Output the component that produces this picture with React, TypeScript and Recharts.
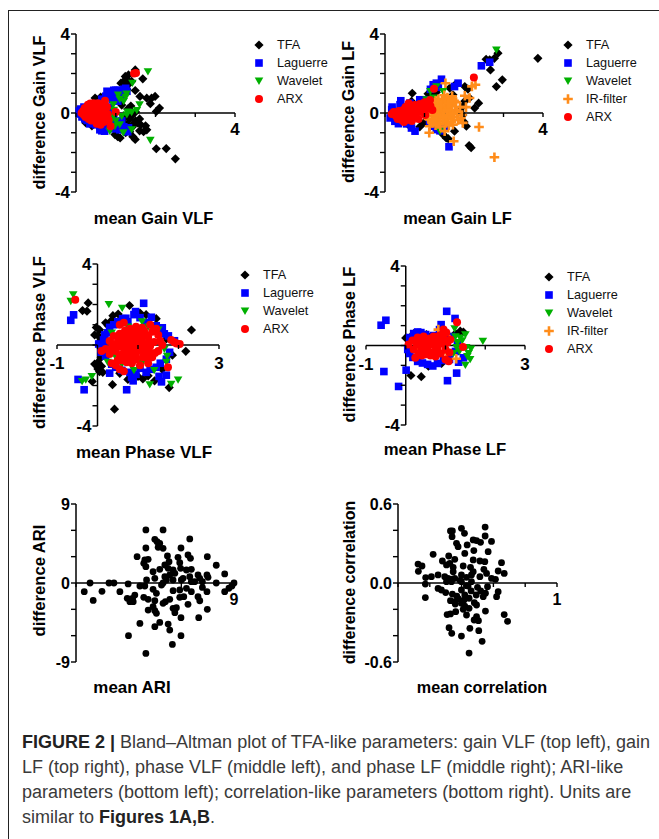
import { ReactElement } from "react";
import {
  Legend,
  ReferenceLine,
  Scatter,
  ScatterChart,
  XAxis,
  YAxis,
} from "recharts";

type Pair = [number, number];

// Gain VLF
const gainVlfTfa: Pair[] = [
  [2.5, -2.32], [2.27, -1.8], [2.02, -1.81], [1.49, -1.34], [1.43, -1.2], [1.11, -1.26], [1.05, -1.2],
  [0.98, -1.09], [1.25, -1.0], [1.7, -0.95], [1.78, -0.85], [1.6, -0.9], [1.75, -0.65], [1.63, -0.6],
  [1.55, -0.5], [1.5, -0.4], [1.42, -0.7], [1.3, -0.6], [1.2, -0.45], [1.35, -0.3], [1.4, -0.15],
  [1.5, 0.05], [2.1, 0.25], [2.02, 0.08], [1.87, 0.47], [1.99, 0.84], [1.9, 0.75], [1.78, 0.75],
  [1.61, 0.84], [1.49, 1.14], [1.68, 1.73], [1.49, 2.18], [1.32, 1.93], [1.24, 1.85], [1.13, 1.51],
  [1.2, 1.6], [1.28, 1.7], [1.4, 1.6], [1.32, 1.45], [1.28, 1.2], [0.98, 1.12], [0.85, 1.0],
  [0.62, 0.8], [0.48, 0.76], [0.52, 0.68], [0.25, -0.5], [0.4, -0.65], [1.15, 0.4], [1.3, 0.2],
  [1.45, -0.55], [1.6, -0.3], [1.35, -0.95], [1.2, -0.2], [1.38, 0.35],
];
const gainVlfLaguerre: Pair[] = [
  [0.08, 0.1], [0.1, -0.05], [0.12, 0.2], [0.15, -0.2], [0.16, 0.05], [0.2, 0.3], [0.22, -0.3],
  [0.28, -0.38], [0.3, 0.28], [0.35, -0.55], [0.38, 0.35], [0.42, -0.5], [0.5, -0.6], [0.55, 0.45],
  [0.6, -0.65], [0.62, 0.5], [0.6, -0.85], [0.65, -0.9], [0.72, -0.92], [0.7, 0.6], [0.75, 0.85],
  [0.78, 1.1], [0.8, -0.7], [0.85, 1.05], [0.9, 1.0], [0.92, 0.7], [0.85, 0.3], [0.95, 1.15],
  [1.0, 1.15], [1.05, 0.95], [1.1, 1.15], [1.15, 1.1], [1.2, 1.2], [1.25, 1.25], [1.28, 1.1],
  [0.9, -0.45], [1.0, -0.6], [1.1, -0.85], [1.3, -0.95], [1.32, -0.75], [0.95, -0.1], [0.8, 0.1],
  [0.7, -0.2], [1.05, 0.6], [1.15, -0.4], [0.65, 0.7], [0.72, 0.45], [0.68, -0.6], [0.85, -0.75],
  [0.95, -0.8], [1.05, -0.75], [0.82, 0.95], [0.98, 0.85], [1.12, 0.9], [1.2, -0.7],
];
const gainVlfWavelet: Pair[] = [
  [1.81, 2.1], [1.42, 1.51], [1.87, -1.38], [1.6, 0.42], [1.53, 0.13], [1.4, 0.03], [1.28, -0.08],
  [1.15, -0.17], [1.06, 0.92], [1.27, 0.97], [1.2, 0.59], [0.94, 0.42], [0.9, -0.33], [0.98, -0.67],
  [1.1, -0.59], [0.85, -0.92], [1.19, -1.0], [1.4, -0.84], [0.94, -0.17], [1.25, 0.8], [1.1, 0.7],
  [1.0, -0.4], [1.3, 0.05], [0.95, 0.15],
];
const gainVlfArx: Pair[] = [
  [0.14, 0], [0.18, 0.1], [0.2, -0.1], [0.22, 0.25], [0.24, -0.2], [0.26, 0.1], [0.28, 0.3],
  [0.3, -0.1], [0.3, 0.42], [0.32, -0.3], [0.34, 0.2], [0.36, 0.48], [0.38, 0.05], [0.38, -0.38],
  [0.4, 0.3], [0.42, -0.2], [0.44, 0.5], [0.45, 0.12], [0.48, -0.4], [0.5, 0.35], [0.5, -0.1],
  [0.52, -0.55], [0.55, 0.2], [0.55, 0.5], [0.58, -0.3], [0.6, 0.05], [0.6, 0.4], [0.62, -0.6],
  [0.65, -0.15], [0.66, 0.25], [0.68, 0.45], [0.7, -0.45], [0.72, 0.1], [0.73, 0.62], [0.75, -0.2],
  [0.78, 0.3], [0.8, -0.05], [0.82, -0.35], [0.87, -0.67], [1.0, 0.05], [1.46, 2.0], [1.51, 2.02],
];

// Gain LF
const gainLfTfa: Pair[] = [
  [3.87, 2.77], [2.86, 3.03], [2.77, 2.77], [2.65, 2.69], [2.56, 2.72], [2.67, 2.18], [2.97, 1.68],
  [2.82, 1.34], [2.02, 1.34], [2.1, 1.21], [1.64, 1.26], [1.76, 1.4], [2.14, 0.76], [2.37, 0.5],
  [2.27, 0.25], [2.02, 0.6], [1.97, 0.34], [0.69, 1.0], [0.67, 0.59], [1.09, 0.97], [1.17, 0.92],
  [1.5, 0.67], [1.72, 0.92], [2.18, -1.76], [2.13, -1.65], [1.55, -1.26], [1.47, -1.09], [1.76, -0.92],
  [2.06, -0.67], [0.63, -0.67], [0.88, -0.7], [1.97, -0.1], [1.4, -0.9], [1.6, -1.3], [2.0, -0.45],
  [1.9, 0.1], [1.3, 1.05], [0.98, -0.5],
];
const gainLfLaguerre: Pair[] = [
  [2.65, 2.57], [2.44, 2.39], [1.62, -1.71], [1.43, 1.71], [1.3, 1.51], [1.22, 1.43], [1.85, 1.51],
  [1.76, 1.34], [0.4, 0.62], [0.38, 0.42], [0.18, 0.3], [0.17, 0.17], [0.13, -0.25], [0.34, -0.54],
  [0.25, -0.42], [0.76, -0.92], [0.67, -0.76], [1.3, -0.84], [1.39, -0.9], [0.88, 0.67], [0.97, 0.67],
  [0.63, 0.5], [1.13, -0.5], [1.22, -0.67], [1.05, 0.67], [0.5, 0.3], [0.55, -0.55], [1.15, 1.2],
  [1.35, 1.3], [1.5, -0.7],
];
const gainLfWavelet: Pair[] = [
  [2.82, 3.19], [1.39, -0.92], [1.09, 0.42], [1.3, 1.34], [1.47, 1.09], [1.05, 0.67], [1.22, 0.76],
  [1.55, -0.34], [1.15, 1.1], [1.3, -0.5],
];
const gainLfIr: Pair[] = [
  [2.77, -2.24], [2.38, -0.71], [1.74, -1.43], [1.12, -1.0], [1.51, -0.92], [2.29, 1.43], [1.53, 1.51],
  [2.02, 0.87], [2.14, 0.76], [1.97, -0.5], [1.72, -0.59], [1.13, -0.67], [1.22, -0.34], [1.3, 0.1],
  [1.4, 0.5], [1.5, 0.9], [1.6, 0.3], [1.7, 0.85], [1.8, 0.55], [1.9, 0.3], [1.45, -0.1], [1.55, -0.5],
  [1.65, 0.05], [1.75, -0.2], [1.85, -0.35], [1.25, 0.45], [1.35, -0.55], [1.45, 0.25], [1.55, 0.6],
  [1.35, 0.7], [1.15, 0.15], [1.25, -0.15], [2.05, 0.3], [1.95, -0.1], [1.4, -0.25], [1.6, -0.3],
  [1.7, 0.35], [1.5, 0.1], [1.1, -0.3], [2.2, 1.35], [1.3, -0.35], [1.42, 0.05], [1.52, 0.35],
  [1.62, -0.12], [1.32, 0.32], [1.2, -0.5], [1.58, 0.78], [1.78, 0.15], [1.48, -0.4], [1.68, -0.45],
  [1.2, 0.05], [1.38, 0.18], [1.28, 0.62], [1.45, 0.72], [1.65, 0.55], [1.82, 0.05], [1.92, -0.25],
  [1.35, -0.12], [1.47, -0.22], [1.57, 0.15], [1.25, 0.25], [1.18, -0.42], [1.72, -0.05], [1.42, 0.38],
  [1.6, 0.48], [1.75, 0.62], [1.28, -0.62], [1.4, -0.68], [1.62, -0.62], [1.08, 0.05], [1.05, -0.15],
];
const gainLfArx: Pair[] = [
  [2.25, 1.8], [1.24, 1.23], [0.6, 0.5], [0.17, -0.05], [0.22, 0.05], [0.28, -0.15], [0.32, -0.3],
  [0.35, 0.1], [0.4, -0.05], [0.42, -0.35], [0.46, 0.15], [0.5, -0.15], [0.52, 0.3], [0.55, -0.35],
  [0.58, 0.05], [0.62, -0.2], [0.65, 0.25], [0.68, -0.4], [0.72, 0.1], [0.75, 0.4], [0.78, -0.15],
  [0.82, 0.2], [0.85, -0.3], [0.88, 0.45], [0.92, 0.05], [0.95, 0.3], [1.0, 0.55], [1.02, -0.1],
  [1.05, 0.2], [1.1, 0.5], [1.15, 0.35], [1.2, 0.15], [1.14, 0.66], [0.48, -0.45], [0.7, 0.35],
];

// Phase VLF
const phaseVlfTfa: Pair[] = [
  [0.42, -3.17], [0.37, -1.96], [-0.13, -1.8], [1.77, -2.1], [-0.23, 2.08], [-0.26, 1.67], [-0.37, 1.7],
  [0.79, 1.95], [2.32, 0.74], [2.18, -0.31], [-0.03, 0.87], [-0.07, 0.5], [0.01, 0.47], [-0.07, -0.94],
  [0.01, -0.86], [0.09, -0.61], [0.05, -1.32], [0.13, -1.35], [0.01, -1.18], [0.38, 1.45], [0.51, 1.53],
  [0.26, 0.96], [0.34, 1.2], [1.25, -1.52], [1.12, -1.68], [1.41, -1.77], [1.62, 0.66], [0.75, -1.7],
  [1.2, 1.5], [1.05, 1.58], [0.05, 0.75], [0.1, -1.05], [0.2, 1.1], [1.7, 0.3], [1.85, -0.5], [1.6, -1.2],
  [1.0, -1.55], [0.55, -1.4], [1.45, 1.3], [0.15, -0.3], [0.08, 0.2],
];
const phaseVlfLaguerre: Pair[] = [
  [1.14, 2.06], [-0.59, 1.49], [-0.66, 1.22], [-0.48, -1.7], [-0.33, -2.21], [0.72, -2.21], [1.58, -1.82],
  [1.7, -1.49], [1.52, -1.55], [0.88, -1.77], [0.84, -1.6], [0.3, -1.39], [0.94, 1.65], [0.7, 1.32],
  [1.33, 1.37], [0.3, 0.87], [0.18, 0.5], [0.03, 0.05], [0.09, -0.36], [1.9, 0.21], [1.78, -0.36],
  [1.7, -0.7], [0.9, 1.5], [1.05, 1.35], [0.5, 1.15], [0.62, 1.3], [0.25, 0.6], [0.15, 0.25], [0.2, -0.55],
  [0.35, -0.95], [0.6, -1.25], [0.95, -1.45], [1.2, -1.35], [1.45, -1.1], [1.6, 0.85], [1.45, 0.95],
  [1.75, 0.45], [1.2, 1.1], [0.4, 1.0], [0.15, 0.0], [0.8, -1.35], [1.05, -1.15], [0.75, 1.15],
  [0.25, -0.25], [0.45, -1.1], [1.3, -1.2], [1.55, -0.9], [1.65, 0.55],
];
const phaseVlfWavelet: Pair[] = [
  [-0.6, 2.49], [-0.66, 2.16], [0.28, 2.01], [0.61, 1.82], [-0.14, -1.55], [-0.29, -1.72], [-0.38, -1.8],
  [1.99, -1.72], [1.82, -1.93], [1.29, -1.96], [1.7, -0.85], [1.72, -0.55], [1.1, 1.15], [1.25, 0.9],
  [0.35, 0.6], [0.25, -0.85], [0.45, -0.6], [0.9, -1.25], [1.4, -1.25], [1.1, -0.9], [0.75, 0.9],
  [1.5, 0.75], [1.65, -0.2], [0.85, 0.35], [0.6, -0.95],
];
const phaseVlfArx: Pair[] = [
  [-0.55, 2.24], [1.74, -1.1], [2.03, 0.05], [1.9, 0.13], [1.82, 0.25], [1.95, 0.08], [0.55, 1.0],
  [0.65, 1.1], [0.8, 0.8], [0.95, 0.9], [1.3, 1.0], [1.45, 0.8], [1.5, 0.5], [1.55, 0.2], [1.6, 0.0],
  [1.5, -0.3], [1.35, -0.6], [1.25, -0.9], [1.05, -1.0], [0.85, -0.9], [0.55, -1.2], [0.65, -1.3],
  [0.45, -1.0], [0.35, -0.9], [0.3, -0.45], [0.2, -0.2], [0.1, -0.3], [0.3, 0.2], [0.4, 0.45],
  [0.45, -0.3], [0.5, 0.1], [0.55, 0.55], [0.55, -0.5], [0.6, -0.1], [0.62, 0.3], [0.68, 0.7],
  [0.7, -0.65], [0.72, 0.0], [0.75, 0.45], [0.78, -0.35], [0.82, 0.15], [0.85, -0.6], [0.88, 0.55],
  [0.9, -0.15], [0.92, 0.25], [0.95, -0.45], [1.0, 0.05], [1.0, 0.6], [1.05, -0.25], [1.08, 0.3],
  [1.12, -0.6], [1.15, 0.7], [1.18, 0.05], [1.2, -0.3], [1.25, 0.4], [1.3, -0.05], [1.35, 0.65],
  [1.4, 0.15], [1.42, -0.4], [0.65, 0.05], [0.8, -0.1], [0.98, 0.35], [0.75, 0.2], [0.88, -0.35],
  [0.7, 0.3], [0.85, 0.4], [0.9, 0.05], [0.8, -0.5], [0.98, -0.2], [1.1, 0.1], [0.68, -0.25],
  [0.78, 0.6], [0.95, -0.7], [1.02, 0.4], [1.2, 0.5], [1.15, -0.45], [0.6, 0.45], [0.58, -0.75],
  [0.4, 0.05], [0.35, -0.15], [0.5, -0.75], [0.72, -0.85], [0.92, 0.75], [1.1, 0.85], [1.28, 0.15],
  [1.32, -0.4], [1.25, -0.65], [0.62, -0.45], [0.52, 0.3], [0.48, -0.1], [1.1, -0.1], [1.05, 0.55],
];

// Phase LF
const phaseLfTfa: Pair[] = [
  [0.13, -1.51], [0.39, -1.57], [0, 0.38], [1.37, 0.72], [1.45, 0.68], [0.57, -1.04], [0.52, 0.55],
  [0.2, 0.6], [0.9, -0.9], [1.25, 0.6],
];
const phaseLfLaguerre: Pair[] = [
  [-0.62, 1.02], [-0.5, 1.27], [1.03, 1.72], [1.24, 1.36], [0.89, 1.05], [-0.55, -1.31], [0.01, -1.24],
  [-0.18, -2.06], [1.05, -1.77], [1.28, -1.39], [1.33, -0.84], [1.45, -0.62], [0.1, 0.4], [0.2, 0.6],
  [0.3, 0.68], [0.38, 0.65], [0.5, 0.55], [0.7, 0.5], [0.85, 0.8], [1.0, 0.55], [1.15, 0.45], [0.05, -0.2],
  [0.1, -0.4], [0.18, -0.6], [0.3, -0.8], [0.42, -0.88], [0.55, -0.95], [0.68, -1.03], [0.8, -0.9],
  [0.95, -0.75], [1.1, -0.7], [1.25, -0.3], [1.3, 0.1],
];
const phaseLfWavelet: Pair[] = [
  [1.94, 0.22], [1.5, -0.99], [1.62, -0.7], [1.64, -0.17], [1.58, -0.4], [1.52, -0.1], [1.5, 0.55],
  [1.37, 0.38], [1.23, 0.85], [1.28, -0.1], [1.42, 0.25], [1.3, 0.15], [1.55, -0.55], [1.2, -0.4],
  [1.35, -0.3], [1.25, 0.45],
];
const phaseLfIr: Pair[] = [
  [1.27, -0.67], [0.82, 0.8], [1.03, -0.37], [0.95, 0.55], [1.1, 0.3], [0.3, -0.25], [0.5, 0.2],
];
const phaseLfArx: Pair[] = [
  [1.29, 1.17], [1.44, -0.08], [0.07, 0.05], [0.24, -0.62], [1.08, -0.79], [1.0, -0.7], [0.17, 0.25],
  [0.2, -0.2], [0.28, 0.05], [0.3, 0.4], [0.32, -0.4], [0.38, 0.2], [0.4, -0.15], [0.45, 0.45],
  [0.48, -0.45], [0.52, 0.1], [0.55, -0.2], [0.6, 0.35], [0.62, -0.5], [0.66, 0.05], [0.7, 0.45],
  [0.72, -0.3], [0.78, 0.2], [0.8, -0.1], [0.85, 0.5], [0.88, -0.4], [0.92, 0.1], [0.95, 0.35],
  [1.0, -0.2], [1.02, 0.65], [1.05, 0.15], [1.1, -0.35], [1.12, 0.3], [0.95, 0.8], [0.75, -0.55],
  [0.4, -0.5], [0.55, 0.25],
];

// mean ARI / difference ARI
const ariMean = [
  3.98, 4.96, 6.48, 4.49, 4.62, 4.77, 4.96, 4.68, 3.98, 5.98, 3.48, 4.11, 3.92, 3.86, 3.98, 5.21, 5.3,
  5.81, 5.91, 6.38, 6.52, 7.48, 7.99, 8.47, 4.39, 4.77, 5.06, 5.25, 5.53, 5.96, 6.29, 6.57, 5.63, 5.34,
  5.06, 5.15, 5.53, 6.1, 6.48, 6.95, 7.05, 7.46, 7.52, 4.02, 4.49, 4.96, 4.87, 0.8, 1.88, 2.16, 2.97,
  7.99, 9, 8.88, 8.71, 8.47, 0.47, 0.98, 1.48, 2.5, 3.35, 3.22, 2.92, 3.07, 3.26, 3.64, 3.92, 4.39, 4.58,
  3.86, 4.11, 4.49, 5.34, 5.09, 4.96, 5.53, 5.91, 6.29, 6.57, 5.91, 6.14, 6.95, 7.05, 6.38, 4.39, 4.11,
  4.58, 4.49, 5.53, 5.72, 5.63, 5.98, 6.99, 7.48, 3.64, 4.77, 4.49, 5.25, 5.34, 5.98, 2.99, 5.49, 3.98,
  7.46, 7.2, 6.76, 6.57, 7.2, 6.0,
];
const ariDiff = [
  6.05, 6.05, 5.02, 4.98, 4.71, 4.52, 3.95, 4.07, 3.99, 3.99, 3.0, 2.7, 2.62, 2.24, 1.86, 3.08, 2.43,
  2.93, 2.32, 3.19, 2.81, 3.0, 2.02, 1.03, 1.29, 1.56, 2.05, 1.67, 1.48, 1.67, 1.48, 1.56, 1.1, 0.91,
  0.72, 0.34, 0.34, 0.53, 0.72, 0.91, 0.53, 0.91, 0.65, 0.34, 0.53, 0, -0.23, 0, 0, 0, -0.1, 0, 0, -0.34,
  -0.6, -0.99, -0.99, -1.98, -0.95, -0.99, -1.37, -1.75, -1.75, -2.13, -2.13, -0.34, -0.34, -0.72, -1.18,
  -1.63, -1.86, -2.02, -1.86, -2.13, -2.32, -0.87, -0.8, -0.61, -0.99, -1.63, -1.56, -1.56, -2.02, -2.43,
  -2.7, -3.08, -3.46, -3.15, -2.89, -2.82, -3.38, -3.95, -3.95, -3.0, -4.6, -4.49, -4.98, -4.68, -5.36,
  -6.0, -6.0, -7.0, -8.02, -0.99, -0.5, 0.15, 0.15, 0.15, 0.34,
];

// mean correlation / difference correlation
const corrMean = [
  0.548, 0.399, 0.418, 0.33, 0.342, 0.34, 0.548, 0.473, 0.494, 0.519, 0.588, 0.368, 0.378, 0.435, 0.42,
  0.477, 0.567, 0.221, 0.126, 0.151, 0.128, 0.279, 0.319, 0.357, 0.326, 0.305, 0.347, 0.473, 0.515, 0.546,
  0.651, 0.41, 0.456, 0.54, 0.63, 0.668, 0.347, 0.473, 0.462, 0.557, 0.252, 0.21, 0.174, 0.294, 0.315,
  0.357, 0.399, 0.431, 0.515, 0.588, 0.613, 0.305, 0.336, 0.399, 0.462, 0.172, 0.172, 0.252, 0.273, 0.3,
  0.399, 0.441, 0.5, 0.63, 0.62, 0.563, 0.55, 0.492, 0.536, 0.342, 0.42, 0.447, 0.33, 0.357, 0.399, 0.42,
  0.494, 0.447, 0.55, 0.431, 0.363, 0.309, 0.33, 0.494, 0.479, 0.506, 0.668, 0.689, 0.321, 0.338, 0.399,
  0.452, 0.508, 0.529, 0.447, 0.36, 0.38, 0.415, 0.46, 0.34, 0.39, 0.43, 0.48, 0.52, 0.37, 0.41,
];
const corrDiff = [
  0.425, 0.415, 0.377, 0.395, 0.395, 0.352, 0.357, 0.327, 0.322, 0.309, 0.316, 0.301, 0.276, 0.289, 0.225,
  0.246, 0.238, 0.218, 0.144, 0.129, 0.089, 0.167, 0.205, 0.18, 0.149, 0.137, 0.119, 0.175, 0.167, 0.162,
  0.154, 0.129, 0.119, 0.104, 0.091, 0.073, 0.086, 0.086, 0.061, 0.073, 0.061, 0.048, 0.041, 0.048, 0.035,
  0.035, 0.061, 0.043, 0.048, 0.035, 0.028, 0.01, 0.01, 0.01, 0.01, -0.008, -0.111, -0.041, -0.053, -0.073,
  -0.053, -0.023, -0.033, -0.066, -0.104, -0.028, -0.078, -0.091, -0.104, -0.084, -0.091, -0.116, -0.134,
  -0.142, -0.154, -0.175, -0.167, -0.192, -0.213, -0.243, -0.218, -0.24, -0.235, -0.256, -0.281, -0.286,
  -0.24, -0.291, -0.339, -0.382, -0.403, -0.344, -0.362, -0.443, -0.532, -0.16, -0.12, -0.13, -0.06, 0.03,
  0.02, -0.02, -0.15, -0.06, -0.1, -0.2,
];

const toPoints = (pairs: Pair[]) => pairs.map(([x, y]) => ({ x, y }));
const zip = (xs: number[], ys: number[]) => xs.map((x, i) => ({ x, y: ys[i] }));

const markerStyle: Record<string, string> = {
  TFA: "#000000",
  Laguerre: "#0000ff",
  Wavelet: "#00b000",
  "IR-filter": "#ff8c1a",
  ARX: "#ff0000",
  Dots: "#000000",
};

const drawMarker = (name: string, cx: number, cy: number): ReactElement => {
  const fill = markerStyle[name];
  if (name === "TFA")
    return <path d={`M${cx} ${cy - 4.6}L${cx + 4.6} ${cy}L${cx} ${cy + 4.6}L${cx - 4.6} ${cy}Z`} fill={fill} />;
  if (name === "Laguerre") return <rect x={cx - 3.8} y={cy - 3.8} width={7.6} height={7.6} fill={fill} />;
  if (name === "Wavelet")
    return <path d={`M${cx - 4.3} ${cy - 3.4}L${cx + 4.3} ${cy - 3.4}L${cx} ${cy + 3.9}Z`} fill={fill} />;
  if (name === "IR-filter")
    return <path d={`M${cx - 4.8} ${cy}H${cx + 4.8}M${cx} ${cy - 4.8}V${cy + 4.8}`} stroke={fill} strokeWidth={2.6} />;
  return <circle cx={cx} cy={cy} r={name === "ARX" ? 4 : 3.4} fill={fill} />;
};

const font = "'Liberation Sans', Arial, sans-serif";

interface Series {
  name: string;
  points: { x: number; y: number }[];
}

interface PanelProps {
  box: { x: number; y: number; w: number; h: number };
  plot: { left: number; right: number; top: number; bottom: number };
  xDomain: [number, number];
  yDomain: [number, number];
  xTicks: number[];
  yTicks: number[];
  xLabels: number[];
  yLabels: number[];
  format?: (v: number) => string;
  series: Series[];
  xTitle: { text: string; x: number; y: number; size: number };
  yTitle: { text: string; x: number; y: number; size: number };
  legend?: { x: number; y: number };
  labelSize?: number;
  labelDrop?: number;
}

const Panel = ({
  box, plot, xDomain, yDomain, xTicks, yTicks, xLabels, yLabels, format = String, series, xTitle, yTitle, legend,
  labelSize = 17, labelDrop = 16,
}: PanelProps) => {
  const crossY = plot.top + (plot.bottom - plot.top) / 2 - box.y;
  const crossX =
    plot.left + ((0 - xDomain[0]) / (xDomain[1] - xDomain[0])) * (plot.right - plot.left) - box.x;

  const xTick = (p: any) => (
    <g>
      <line x1={p.x} x2={p.x} y1={crossY} y2={crossY + 4} stroke="#000" strokeWidth={1.4} />
      {xLabels.includes(p.payload.value) && (
        <text x={p.x} y={crossY + labelDrop + 6} textAnchor="middle" fontFamily={font} fontSize={labelSize} fontWeight="bold">
          {format(p.payload.value)}
        </text>
      )}
    </g>
  );
  const yTick = (p: any) => (
    <g>
      <line x1={crossX - 5} x2={crossX} y1={p.y} y2={p.y} stroke="#000" strokeWidth={1.4} />
      {yLabels.includes(p.payload.value) && (
        <text x={crossX - 6} y={p.y + 6} textAnchor="end" fontFamily={font} fontSize={labelSize} fontWeight="bold">
          {format(p.payload.value)}
        </text>
      )}
    </g>
  );

  const legendContent = ({ payload }: any) => (
    <div style={{ position: "relative" }}>
      {(payload || []).map((entry: any, i: number) => (
        <div key={entry.value} style={{ position: "absolute", left: 0, top: i * 18, height: 18, whiteSpace: "nowrap" }}>
          <svg width={18} height={18} style={{ position: "absolute", left: -9, top: -9 }}>
            {drawMarker(entry.value, 9, 9)}
          </svg>
          <span
            style={{
              position: "absolute",
              left: 18,
              top: -8,
              fontFamily: font,
              fontSize: 12.7,
              lineHeight: "16px",
              color: "#111",
            }}
          >
            {entry.value}
          </span>
        </div>
      ))}
    </div>
  );

  return (
    <div style={{ position: "absolute", left: box.x, top: box.y }}>
      <ScatterChart
        width={box.w}
        height={box.h}
        margin={{
          left: plot.left - box.x - 1,
          top: plot.top - box.y,
          right: box.x + box.w - plot.right,
          bottom: box.y + box.h - plot.bottom - 1,
        }}
      >
        <XAxis
          type="number"
          dataKey="x"
          domain={xDomain}
          ticks={xTicks}
          interval={0}
          height={1}
          tick={xTick}
          axisLine={false}
          tickLine={false}
        />
        <YAxis
          type="number"
          dataKey="y"
          domain={yDomain}
          ticks={yTicks}
          interval={0}
          width={1}
          tick={yTick}
          axisLine={false}
          tickLine={false}
        />
        <ReferenceLine y={0} stroke="#000" strokeWidth={1.5} />
        <ReferenceLine x={0} stroke="#000" strokeWidth={1.5} />
        {series.map((s) => (
          <Scatter
            key={s.name}
            name={s.name}
            data={s.points}
            fill={markerStyle[s.name]}
            isAnimationActive={false}
            shape={(p: any) => drawMarker(s.name, p.cx, p.cy)}
          />
        ))}
        {legend && (
          <Legend
            layout="horizontal"
            align="center"
            verticalAlign="middle"
            itemSorter={null as any}
            content={legendContent}
            wrapperStyle={{ left: legend.x - box.x, top: legend.y - box.y, width: 100, height: 0, margin: 0 }}
          />
        )}
        <text
          x={xTitle.x - box.x}
          y={xTitle.y - box.y}
          textAnchor="middle"
          fontFamily={font}
          fontWeight="bold"
          fontSize={xTitle.size}
        >
          {xTitle.text}
        </text>
        <text
          transform={`translate(${yTitle.x - box.x} ${yTitle.y - box.y}) rotate(-90)`}
          textAnchor="middle"
          fontFamily={font}
          fontWeight="bold"
          fontSize={yTitle.size}
        >
          {yTitle.text}
        </text>
      </ScatterChart>
    </div>
  );
};

const unitTicks4 = [-4, -3, -2, -1, 0, 1, 2, 3, 4];

const caption = {
  position: "absolute" as const,
  left: 22,
  whiteSpace: "nowrap" as const,
  fontFamily: font,
  fontSize: 18,
  lineHeight: "20px",
  color: "#3a3a3a",
};

export default function App() {
  return (
    <div style={{ position: "absolute", left: 0, top: 0, width: 659, height: 839, background: "#fff", overflow: "hidden" }}>
      <div style={{ position: "absolute", left: 8, top: 10, width: 651, height: 829, borderLeft: "1.5px solid #222", borderTop: "1.5px solid #222" }} />
      <Panel
        box={{ x: 10, y: 14, w: 320, h: 225 }}
        plot={{ left: 76, right: 235, top: 34, bottom: 192 }}
        xDomain={[0, 4]}
        yDomain={[-4, 4]}
        xTicks={[0, 1, 2, 3, 4]}
        yTicks={unitTicks4}
        xLabels={[4]}
        yLabels={[-4, 0, 4]}
        series={[
          { name: "TFA", points: toPoints(gainVlfTfa) },
          { name: "Laguerre", points: toPoints(gainVlfLaguerre) },
          { name: "Wavelet", points: toPoints(gainVlfWavelet) },
          { name: "ARX", points: toPoints(gainVlfArx) },
        ]}
        xTitle={{ text: "mean Gain VLF", x: 153.5, y: 224, size: 16.4 }}
        yTitle={{ text: "difference Gain VLF", x: 45, y: 112.5, size: 16.3 }}
        legend={{ x: 259, y: 45 }}
      />
      <Panel
        box={{ x: 335, y: 14, w: 320, h: 225 }}
        plot={{ left: 385, right: 543, top: 34, bottom: 192 }}
        xDomain={[0, 4]}
        yDomain={[-4, 4]}
        xTicks={[0, 1, 2, 3, 4]}
        yTicks={unitTicks4}
        xLabels={[4]}
        yLabels={[-4, 0, 4]}
        series={[
          { name: "TFA", points: toPoints(gainLfTfa) },
          { name: "Laguerre", points: toPoints(gainLfLaguerre) },
          { name: "Wavelet", points: toPoints(gainLfWavelet) },
          { name: "IR-filter", points: toPoints(gainLfIr) },
          { name: "ARX", points: toPoints(gainLfArx) },
        ]}
        xTitle={{ text: "mean Gain LF", x: 457.5, y: 224, size: 16.4 }}
        yTitle={{ text: "difference Gain LF", x: 354, y: 112, size: 16.2 }}
        legend={{ x: 568, y: 45 }}
      />
      <Panel
        box={{ x: 10, y: 245, w: 320, h: 225 }}
        plot={{ left: 57, right: 219, top: 264, bottom: 426 }}
        xDomain={[-1, 3]}
        yDomain={[-4, 4]}
        xTicks={[-1, 0, 1, 2, 3]}
        yTicks={unitTicks4}
        xLabels={[-1, 3]}
        yLabels={[-4, 4]}
        labelDrop={18}
        series={[
          { name: "TFA", points: toPoints(phaseVlfTfa) },
          { name: "Laguerre", points: toPoints(phaseVlfLaguerre) },
          { name: "Wavelet", points: toPoints(phaseVlfWavelet) },
          { name: "ARX", points: toPoints(phaseVlfArx) },
        ]}
        xTitle={{ text: "mean Phase VLF", x: 144, y: 458, size: 17 }}
        yTitle={{ text: "difference Phase VLF", x: 45, y: 342.5, size: 17 }}
        legend={{ x: 245, y: 275 }}
      />
      <Panel
        box={{ x: 335, y: 245, w: 320, h: 225 }}
        plot={{ left: 366, right: 525, top: 266, bottom: 425 }}
        xDomain={[-1, 3]}
        yDomain={[-4, 4]}
        xTicks={[-1, 0, 1, 2, 3]}
        yTicks={unitTicks4}
        xLabels={[-1, 3]}
        yLabels={[-4, 4]}
        labelDrop={18}
        series={[
          { name: "TFA", points: toPoints(phaseLfTfa) },
          { name: "Laguerre", points: toPoints(phaseLfLaguerre) },
          { name: "Wavelet", points: toPoints(phaseLfWavelet) },
          { name: "IR-filter", points: toPoints(phaseLfIr) },
          { name: "ARX", points: toPoints(phaseLfArx) },
        ]}
        xTitle={{ text: "mean Phase LF", x: 445, y: 455, size: 16.7 }}
        yTitle={{ text: "difference Phase LF", x: 355, y: 344.5, size: 16.4 }}
        legend={{ x: 549, y: 277 }}
      />
      <Panel
        box={{ x: 10, y: 480, w: 320, h: 225 }}
        plot={{ left: 76, right: 234, top: 504, bottom: 662 }}
        xDomain={[0, 9]}
        yDomain={[-9, 9]}
        xTicks={[0, 3, 6, 9]}
        yTicks={[-9, -6, -3, 0, 3, 6, 9]}
        xLabels={[9]}
        yLabels={[-9, 0, 9]}
        labelSize={16}
        series={[{ name: "Dots", points: zip(ariMean, ariDiff) }]}
        xTitle={{ text: "mean ARI", x: 132, y: 693, size: 16.9 }}
        yTitle={{ text: "difference ARI", x: 45, y: 580.5, size: 16.6 }}
      />
      <Panel
        box={{ x: 335, y: 480, w: 320, h: 225 }}
        plot={{ left: 398, right: 557, top: 504, bottom: 662 }}
        xDomain={[0, 1]}
        yDomain={[-0.6, 0.6]}
        xTicks={[0, 0.2, 0.4, 0.6, 0.8, 1]}
        yTicks={[-0.6, -0.4, -0.2, 0, 0.2, 0.4, 0.6]}
        xLabels={[1]}
        yLabels={[-0.6, 0, 0.6]}
        labelSize={16}
        format={(v) => (v === 1 ? "1" : v.toFixed(1))}
        series={[{ name: "Dots", points: zip(corrMean, corrDiff) }]}
        xTitle={{ text: "mean correlation", x: 482, y: 693, size: 16.2 }}
        yTitle={{ text: "difference correlation", x: 354.5, y: 582.5, size: 16 }}
      />
      <div style={{ ...caption, top: 732 }}>
        <b style={{ color: "#222" }}>FIGURE 2 |</b> Bland–Altman plot of TFA-like parameters: gain VLF (top left), gain
      </div>
      <div style={{ ...caption, top: 757 }}>
        LF (top right), phase VLF (middle left), and phase LF (middle right); ARI-like
      </div>
      <div style={{ ...caption, top: 782 }}>
        parameters (bottom left); correlation-like parameters (bottom right). Units are
      </div>
      <div style={{ ...caption, top: 807 }}>
        similar to <b style={{ color: "#222" }}>Figures 1A,B</b>.
      </div>
    </div>
  );
}
